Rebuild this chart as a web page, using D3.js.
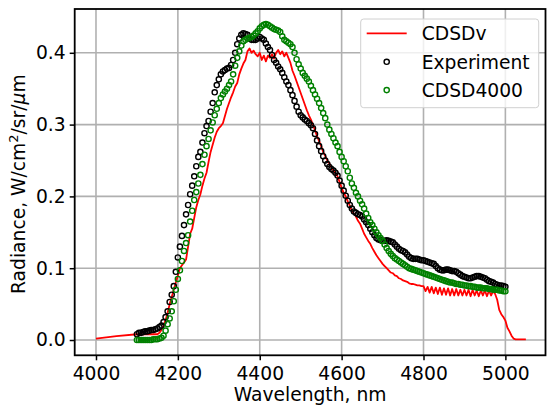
<!DOCTYPE html>
<html>
<head>
<meta charset="utf-8">
<script src="https://cdn.jsdelivr.net/npm/d3@7"></script>
<style>
  body { margin: 0; background: #fff; }
  text { font-family: "DejaVu Sans", sans-serif; fill: #000; }
</style>
</head>
<body>
<svg id="chart" width="547" height="408"></svg>
<script>
// ---- data ----
const xTicks = [4000, 4200, 4400, 4600, 4800, 5000];
const yTicks = [0.0, 0.1, 0.2, 0.3, 0.4];

// CDSDv, red line: a few points before 4150 nm, then a 5 nm grid 4150..5050
const cdsdvHeadWl  = [4000, 4050, 4100, 4125, 4145];
const cdsdvHeadVal = [0.002, 0.0055, 0.008, 0.008, 0.008];
const cdsdvStart = 4150, cdsdvStep = 5;
const cdsdvVal = [
  0.008, 0.010, 0.014, 0.020, 0.028, 0.038, 0.050, 0.060, 0.070, 0.080,
  0.090, 0.100, 0.104, 0.108, 0.112, 0.130, 0.148, 0.155, 0.170, 0.185,
  0.195, 0.203, 0.215, 0.225, 0.233, 0.248, 0.262, 0.272, 0.282, 0.290,
  0.295, 0.298, 0.302, 0.312, 0.322, 0.330, 0.338, 0.345, 0.353, 0.358,
  0.370, 0.378, 0.385, 0.390, 0.402, 0.406, 0.400, 0.403, 0.398, 0.395,
  0.400, 0.390, 0.396, 0.388, 0.396, 0.393, 0.398, 0.392, 0.400, 0.404,
  0.398, 0.402, 0.395, 0.400, 0.393, 0.386, 0.375, 0.368, 0.360, 0.352,
  0.344, 0.336, 0.328, 0.320, 0.313, 0.307, 0.300, 0.292, 0.284, 0.277,
  0.270, 0.262, 0.256, 0.250, 0.246, 0.240, 0.236, 0.232, 0.228, 0.220,
  0.212, 0.205, 0.200, 0.193, 0.187, 0.180, 0.176, 0.172, 0.166, 0.162,
  0.155, 0.148, 0.143, 0.138, 0.134, 0.128, 0.123, 0.118, 0.114, 0.110,
  0.106, 0.103, 0.100, 0.097, 0.094, 0.093, 0.090, 0.089, 0.086, 0.085,
  0.083, 0.082, 0.081, 0.079, 0.078, 0.078, 0.077, 0.076, 0.076, 0.075,
  0.075, 0.068, 0.074, 0.066, 0.074, 0.065, 0.073, 0.064, 0.073, 0.063,
  0.072, 0.063, 0.072, 0.062, 0.071, 0.062, 0.071, 0.062, 0.070, 0.062,
  0.070, 0.062, 0.070, 0.061, 0.070, 0.062, 0.069, 0.061, 0.069, 0.062,
  0.069, 0.061, 0.069, 0.062, 0.068, 0.064, 0.056, 0.042, 0.036, 0.032,
  0.027, 0.017, 0.012, 0.006, 0.002, 0.001, 0.001, 0.001, 0.001, 0.001,
  0.001
];

// Experiment and CDSD4000, markers on a 5 nm grid 4100..5000
const markStart = 4100, markStep = 5;
const experimentVal = [
  0.008, 0.010, 0.010, 0.011, 0.012, 0.012, 0.013, 0.014, 0.014, 0.015,
  0.016, 0.018, 0.020, 0.025, 0.032, 0.040, 0.053, 0.063, 0.075, 0.095,
  0.115, 0.130, 0.145, 0.160, 0.175, 0.188, 0.203, 0.215, 0.228, 0.242,
  0.255, 0.262, 0.275, 0.288, 0.298, 0.305, 0.318, 0.330, 0.345, 0.355,
  0.363, 0.370, 0.374, 0.376, 0.378, 0.379, 0.383, 0.390, 0.400, 0.412,
  0.420, 0.425, 0.427, 0.426, 0.425, 0.420, 0.418, 0.418, 0.418, 0.420,
  0.422, 0.420, 0.418, 0.413, 0.408, 0.404, 0.397, 0.390, 0.386, 0.381,
  0.377, 0.372, 0.366, 0.360, 0.355, 0.348, 0.341, 0.333, 0.325, 0.318,
  0.313, 0.310, 0.307, 0.305, 0.302, 0.299, 0.295, 0.287, 0.278, 0.270,
  0.263, 0.256, 0.250, 0.245, 0.241, 0.238, 0.236, 0.233, 0.229, 0.222,
  0.215, 0.208, 0.201, 0.194, 0.188, 0.183, 0.179, 0.177, 0.175, 0.174,
  0.172, 0.168, 0.164, 0.160, 0.155, 0.150, 0.146, 0.142, 0.140, 0.139,
  0.138, 0.138, 0.139, 0.138, 0.137, 0.136, 0.133, 0.130, 0.127, 0.125,
  0.124, 0.122, 0.119, 0.116, 0.114, 0.113, 0.113, 0.113, 0.112, 0.111,
  0.111, 0.110, 0.109, 0.108, 0.107, 0.106, 0.103, 0.100, 0.098, 0.097,
  0.097, 0.098, 0.098, 0.097, 0.096, 0.096, 0.095, 0.093, 0.091, 0.089,
  0.088, 0.087, 0.086, 0.086, 0.087, 0.088, 0.089, 0.089, 0.088, 0.087,
  0.086, 0.084, 0.082, 0.081, 0.080, 0.078, 0.077, 0.076, 0.076, 0.075,
  0.074
];
const cdsd4000Val = [
  0.000, 0.000, 0.000, 0.000, 0.000, 0.000, 0.000, 0.000, 0.001, 0.001,
  0.001, 0.002, 0.003, 0.006, 0.013, 0.022, 0.030, 0.040, 0.054, 0.070,
  0.085, 0.097, 0.110, 0.124, 0.135, 0.146, 0.165, 0.180, 0.195, 0.206,
  0.218, 0.230, 0.245, 0.258, 0.270, 0.280, 0.292, 0.303, 0.313, 0.322,
  0.330, 0.337, 0.342, 0.346, 0.350, 0.355, 0.360, 0.370, 0.382, 0.393,
  0.402, 0.410, 0.416, 0.418, 0.420, 0.421, 0.422, 0.424, 0.427, 0.430,
  0.434, 0.437, 0.439, 0.440, 0.439, 0.437, 0.435, 0.433, 0.432, 0.431,
  0.429, 0.423, 0.418, 0.416, 0.414, 0.412, 0.408, 0.400, 0.391, 0.384,
  0.378, 0.372, 0.368, 0.364, 0.360, 0.354, 0.348, 0.342, 0.336, 0.330,
  0.323, 0.316, 0.309, 0.300, 0.293, 0.287, 0.281, 0.275, 0.270, 0.262,
  0.255, 0.249, 0.242, 0.235, 0.226, 0.218, 0.212, 0.205, 0.200, 0.194,
  0.189, 0.183, 0.176, 0.170, 0.164, 0.160, 0.155, 0.150, 0.146, 0.142,
  0.138, 0.133, 0.128, 0.124, 0.120, 0.117, 0.114, 0.112, 0.110, 0.108,
  0.106, 0.104, 0.102, 0.100, 0.099, 0.098, 0.097, 0.096, 0.095, 0.094,
  0.093, 0.092, 0.091, 0.090, 0.089, 0.088, 0.087, 0.086, 0.085, 0.084,
  0.083, 0.082, 0.081, 0.080, 0.080, 0.079, 0.078, 0.078, 0.077, 0.077,
  0.076, 0.076, 0.075, 0.075, 0.074, 0.074, 0.073, 0.073, 0.073, 0.072,
  0.072, 0.072, 0.071, 0.071, 0.070, 0.070, 0.070, 0.069, 0.069, 0.068,
  0.068
];

const legendLabels = ["CDSDv", "Experiment", "CDSD4000"];
const colors = ["#ff0000", "#000000", "#008000"];

// ---- build point lists ----
const cdsdv = cdsdvHeadWl.map((w, i) => [w, cdsdvHeadVal[i]])
  .concat(cdsdvVal.map((v, i) => [cdsdvStart + i * cdsdvStep, v]));
const experiment = experimentVal.map((v, i) => [markStart + i * markStep, v]);
const cdsd4000 = cdsd4000Val.map((v, i) => [markStart + i * markStep, v]);

// ---- layout ----
const svg = d3.select("#chart");
const L = 74.7, R = 545.5, T = 9, B = 355.3;
const fs = 18.7;

const x = d3.scaleLinear().domain([3948, 5098]).range([L, R]);
const y = d3.scaleLinear().domain([-0.0213, 0.461]).range([B, T]);

// grid
const grid = svg.append("g").attr("stroke", "#b0b0b0").attr("stroke-width", 1.6);
grid.selectAll(".gx").data(xTicks).enter().append("line")
  .attr("x1", d => x(d)).attr("x2", d => x(d)).attr("y1", T).attr("y2", B);
grid.selectAll(".gy").data(yTicks).enter().append("line")
  .attr("x1", L).attr("x2", R).attr("y1", d => y(d)).attr("y2", d => y(d));

// clip for data
svg.append("clipPath").attr("id", "clip").append("rect")
  .attr("x", L).attr("y", T).attr("width", R - L).attr("height", B - T);
const plot = svg.append("g").attr("clip-path", "url(#clip)");

// red line
plot.append("path")
  .datum(cdsdv)
  .attr("fill", "none")
  .attr("stroke", colors[0])
  .attr("stroke-width", 1.8)
  .attr("stroke-linejoin", "round")
  .attr("d", d3.line().x(d => x(d[0])).y(d => y(d[1])));

// markers
[experiment, cdsd4000].forEach((series, k) => {
  plot.append("g")
    .attr("fill", "none")
    .attr("stroke", colors[k + 1])
    .attr("stroke-width", 1.4)
    .selectAll("circle")
    .data(series)
    .enter().append("circle")
    .attr("cx", d => x(d[0]))
    .attr("cy", d => y(d[1]))
    .attr("r", 2.6);
});

// frame
svg.append("rect")
  .attr("x", L).attr("y", T).attr("width", R - L).attr("height", B - T)
  .attr("fill", "none").attr("stroke", "#000").attr("stroke-width", 1.8);

// x axis
const xAxis = svg.append("g").attr("transform", `translate(0,${B})`)
  .call(d3.axisBottom(x).tickValues(xTicks).tickSize(5).tickPadding(6).tickFormat(d3.format("d")));
xAxis.select(".domain").remove();
xAxis.selectAll("line").attr("stroke", "#000").attr("stroke-width", 1.5);
xAxis.selectAll("text").attr("font-size", fs).attr("font-family", "DejaVu Sans").attr("fill", "#000");

// y axis
const yAxis = svg.append("g").attr("transform", `translate(${L},0)`)
  .call(d3.axisLeft(y).tickValues(yTicks).tickSize(5).tickPadding(4).tickFormat(d3.format(".1f")));
yAxis.select(".domain").remove();
yAxis.selectAll("line").attr("stroke", "#000").attr("stroke-width", 1.5);
yAxis.selectAll("text").attr("font-size", fs).attr("font-family", "DejaVu Sans").attr("fill", "#000");

// axis labels
svg.append("text")
  .attr("x", (L + R) / 2).attr("y", 401)
  .attr("text-anchor", "middle").attr("font-size", fs)
  .text("Wavelength, nm");

const yl = svg.append("text")
  .attr("transform", `translate(25,${(T + B) / 2 + 2}) rotate(-90)`)
  .attr("text-anchor", "middle").attr("font-size", fs);
yl.append("tspan").text("Radiance, W/cm");
yl.append("tspan").attr("dy", -7).attr("font-size", 13).text("2");
yl.append("tspan").attr("dy", 7).text("/sr/");
yl.append("tspan").attr("font-style", "italic").text("\u03bc");
yl.append("tspan").text("m");

// legend
const lg = svg.append("g");
lg.append("rect")
  .attr("x", 360.7).attr("y", 19).attr("width", 178).attr("height", 88.7)
  .attr("rx", 3).attr("fill", "rgba(255,255,255,0.8)")
  .attr("stroke", "#d0d0d0").attr("stroke-width", 1);
const rowY = [33.3, 61.8, 90.1];
legendLabels.forEach((lab, i) => {
  if (i === 0) {
    lg.append("line").attr("x1", 366.7).attr("x2", 406.7)
      .attr("y1", rowY[i]).attr("y2", rowY[i])
      .attr("stroke", colors[i]).attr("stroke-width", 1.8);
  } else {
    lg.append("circle").attr("cx", 386.7).attr("cy", rowY[i]).attr("r", 2.6)
      .attr("fill", "none").attr("stroke", colors[i]).attr("stroke-width", 1.4);
  }
  lg.append("text").attr("x", 421.7).attr("y", rowY[i] + 6.7)
    .attr("font-size", fs).text(lab);
});
</script>
</body>
</html>
